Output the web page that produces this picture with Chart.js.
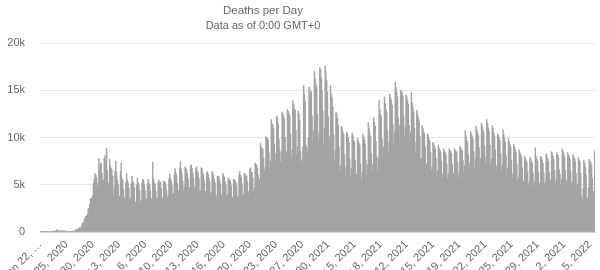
<!DOCTYPE html>
<html>
<head>
<meta charset="utf-8">
<script src="https://cdn.jsdelivr.net/npm/chart.js@4.4.1/dist/chart.umd.min.js"></script>
<style>
  html, body { margin: 0; padding: 0; background: #ffffff; overflow: hidden; }
  #wrap { width: 600px; height: 270px; }
</style>
</head>
<body>
<div id="wrap"><canvas id="c" width="600" height="270"></canvas></div>
<script>
// ---- Data (daily deaths) ----
const startDate = [2020, 0, 22]; // Jan 22, 2020
const deaths2020 = [
  17, 8, 16, 15,
  24, 26, 26, 38, 43, 46, 45,
  57, 64, 66, 73, 73, 86, 89,
  97, 108, 97, 254, 121, 143, 142,
  106, 98, 136, 115, 118, 109, 97,
  150, 71, 64, 37, 58, 58, 67,
  72, 84, 72, 87, 100, 103, 100,
  228, 209, 272, 327, 341, 447, 420,
  520, 830, 970, 960, 1300, 1480, 1650,
  1700, 1880, 2400, 2500, 2900, 3500, 3600,
  3300, 3800, 5200, 5600, 6200, 6000, 5800,
  4800, 5200, 7800, 6600, 7300, 7200, 6200,
  5500, 5500, 7800, 8100, 7300, 8900, 6500,
  5000, 5200, 7700, 7000, 6700, 6600, 5900,
  3900, 4700, 6400, 7500, 6400, 5500, 5000,
  3600, 3800, 6400, 7300, 5700, 5500, 4500,
  3600, 3600, 5200, 6200, 5500, 5200, 4600,
  3400, 3600, 5100, 5900, 5400, 5200, 4700,
  3100, 3200, 5000, 5700, 5200, 5000, 4400,
  3100, 3400, 5200, 5600, 5500, 5000, 4400,
  3300, 3500, 5100, 5600, 5200, 5000, 4300,
  3400, 3600, 7400, 5600, 5200, 5000, 4300,
  3500, 3600, 5300, 5500, 5200, 5300, 4600,
  3500, 3600, 5400, 5300, 5300, 5000, 4400,
  3600, 3800, 5600, 6100, 5700, 5400, 4900,
  4000, 4100, 6000, 6700, 6300, 6000, 5200,
  4300, 4400, 6800, 7400, 6600, 6100, 5400,
  4300, 4800, 6900, 6700, 6600, 6200, 5600,
  4300, 4700, 7000, 7100, 6700, 6300, 5700,
  4500, 4800, 6700, 6900, 6400, 6200, 5700,
  4300, 4400, 6800, 6700, 6300, 6000, 5400,
  4200, 4300, 6200, 6400, 6100, 5700, 5300,
  4100, 4200, 6300, 6400, 6000, 5600, 5200,
  3900, 3600, 5900, 5700, 5900, 5500, 5100,
  3800, 4100, 6200, 6000, 5800, 5400, 5000,
  3800, 3900, 5700, 5600, 5500, 5300, 4900,
  3600, 3700, 5600, 5500, 5400, 5200, 4900,
  3700, 3800, 6000, 6400, 6000, 5800, 5100,
  3800, 4000, 6200, 6100, 6000, 5900, 5300,
  4000, 4300, 6600, 6800, 6300, 6300, 5700,
  4300, 4600, 7300, 7100, 7100, 6800, 6000,
  4800, 5600, 9400, 9000, 8800, 8800, 7800,
  6500, 6800, 10100, 10000, 9900, 9700, 8400,
  6700, 7500, 11900, 11500, 11300, 11000, 9300,
  7400, 8300, 12300, 12100, 11400, 9800, 8700,
  7400, 8400, 12700, 12500, 12200, 12000, 10000,
  7800, 8500, 13000, 12800, 12500, 12300, 10400,
  8000, 8700, 13900, 13500, 13000, 12900, 10800,
  8200, 9000, 12800, 12500, 11800, 8500, 7400,
  7600, 9000, 15500, 14600, 13800
];
const deaths2021 = [
  9200, 8900,
  8400, 10000, 15300, 14700, 15000, 14800, 12300,
  9500, 10700, 17000, 16200, 15700, 15300, 12500,
  9600, 10500, 17400, 17200, 16300, 15000, 12800,
  9300, 11000, 17600, 17000, 16000, 14800, 12200,
  8800, 10100, 15500, 14500, 14200, 13200, 10300,
  7500, 8600, 12700, 12500, 12100, 11300, 9000,
  6300, 7000, 11200, 11000, 10600, 10300, 8200,
  5900, 6900, 10600, 10400, 10000, 9500, 7700,
  5800, 6700, 10500, 10200, 9700, 9500, 7600,
  5400, 6100, 9900, 9600, 9400, 9100, 7200,
  5500, 6300, 10400, 10100, 9800, 9300, 7600,
  6000, 7100, 11600, 11000, 10500, 10100, 8300,
  6300, 7200, 12100, 11600, 11200, 9600, 8000,
  6500, 7800, 13900, 13000, 12500, 12200, 9800,
  7900, 9000, 14300, 13600, 13000, 12600, 10700,
  8500, 9500, 14600, 14200, 13900, 13400, 11400,
  9200, 10600, 15900, 15300, 14800, 14300, 12100,
  9800, 11300, 15000, 14900, 14700, 14400, 12300,
  10100, 11100, 14500, 14300, 13900, 13500, 11300,
  9500, 10500, 14800, 13700, 13200, 12700, 11000,
  8400, 9500, 12900, 12500, 12100, 11800, 10100,
  7700, 7800, 11300, 11000, 10600, 10400, 9000,
  7100, 7200, 10400, 10200, 9800, 9600, 8400,
  6500, 6900, 9500, 9300, 9100, 8800, 7800,
  6000, 6500, 9200, 8900, 8700, 8500, 7500,
  5800, 6200, 8800, 8600, 8400, 8200, 7200,
  5700, 6100, 8800, 8500, 8600, 8300, 7200,
  5600, 6200, 8800, 8600, 8400, 8500, 7400,
  5700, 6400, 9100, 8900, 8700, 8600, 7600,
  6300, 7000, 10700, 10200, 9700, 9500, 8200,
  6500, 7300, 10600, 10400, 10100, 9800, 8500,
  6800, 7700, 11200, 10800, 10500, 10200, 8900,
  7000, 7800, 11500, 11200, 10800, 10500, 9100,
  7200, 8000, 11900, 11500, 11000, 10600, 9200,
  7000, 7700, 11300, 11000, 10500, 10100, 8700,
  6600, 7000, 10400, 10200, 10000, 9700, 8300,
  6500, 7200, 10800, 10300, 9900, 9500, 8100,
  6100, 6800, 9900, 9600, 9300, 9000, 7600,
  5700, 6200, 9300, 9000, 8700, 8400, 7200,
  5400, 5800, 8700, 8400, 8200, 7900, 6800,
  5000, 5400, 8000, 7800, 7600, 7400, 6400,
  4900, 5300, 7900, 7700, 7500, 7300, 6200,
  4900, 5400, 8900, 8000, 7700, 7500, 6300,
  4800, 5200, 8000, 7900, 7600, 7300, 6200,
  4900, 5300, 8300, 8100, 7800, 7500, 6300,
  5000, 5500, 8500, 8300, 8000, 7700, 6500,
  5100, 5600, 8400, 8200, 7900, 6600, 6100,
  5000, 5600, 8800, 8500, 8200, 7900, 6500,
  5000, 5500, 8400, 8200, 8000, 7700, 6400,
  4900, 5300, 8200, 8000, 7800, 7500, 6200,
  4700, 5100, 7900, 7600, 7400, 6200, 3800,
  3400, 4600, 7600, 7300, 6900, 6000
];
const deaths2022 = [
  3600,
  3500, 4700, 7700, 7500, 7300, 7100, 5700,
  3900, 4300, 8600
];
const deaths = deaths2020.concat(deaths2021, deaths2022);

const monthNames = ['Jan','Feb','Mar','Apr','May','Jun','Jul','Aug','Sep','Oct','Nov','Dec'];
const categories = deaths.map((_, i) => {
  const d = new Date(Date.UTC(startDate[0], startDate[1], startDate[2] + i));
  return monthNames[d.getUTCMonth()] + ' ' + d.getUTCDate() + ', ' + d.getUTCFullYear();
});
const tickEvery = 34;
const firstTickLabel = 'Jan 22, …';
const yTicks = [0, 5000, 10000, 15000, 20000];
const yTickLabels = ['0', '5k', '10k', '15k', '20k'];
const titleText = 'Deaths per Day';
const subtitleText = 'Data as of 0:00 GMT+0';

const FONT = "'Liberation Sans', Arial, sans-serif";

const titlePlugin = {
  id: 'fixedTitle',
  afterDraw(chart) {
    const ctx = chart.ctx;
    ctx.save();
    ctx.fillStyle = '#666666';
    ctx.textAlign = 'center';
    ctx.textBaseline = 'middle';
    ctx.font = '11.5px ' + FONT;
    ctx.fillText(titleText, 263, 11);
    ctx.font = '11px ' + FONT;
    ctx.fillText(subtitleText, 263, 25.5);
    ctx.restore();
  }
};

new Chart(document.getElementById('c'), {
  type: 'bar',
  data: {
    labels: categories,
    datasets: [{
      data: deaths,
      backgroundColor: '#a3a3a3',
      borderWidth: 0,
      barPercentage: 1.0,
      categoryPercentage: 1.0
    }]
  },
  options: {
    responsive: false,
    animation: false,
    events: [],
    layout: { padding: { left: 0, right: 5, top: 43, bottom: 0 } },
    plugins: {
      legend: { display: false },
      title: { display: false },
      tooltip: { enabled: false }
    },
    scales: {
      x: {
        grid: { display: false, drawTicks: false },
        border: { display: true, color: '#ccd6eb' },
        ticks: {
          autoSkip: false,
          maxRotation: 45,
          minRotation: 45,
          padding: 6,
          color: '#666666',
          font: { family: FONT, size: 11 },
          callback: function(value, index) {
            if (index % tickEvery !== 0) return null;
            return index === 0 ? firstTickLabel : categories[index];
          }
        },
        afterFit(scale) {
          scale.height = 38;
          scale.paddingLeft = 0;
          scale.paddingRight = 0;
        }
      },
      y: {
        min: 0,
        max: 20000,
        afterBuildTicks(scale) {
          scale.ticks = yTicks.map(v => ({ value: v }));
        },
        grid: { color: '#e6e6e6', drawTicks: false, lineWidth: 1 },
        border: { display: false },
        ticks: {
          padding: 15,
          color: '#666666',
          font: { family: FONT, size: 11 },
          callback: function(value) {
            const k = yTicks.indexOf(value);
            return k >= 0 ? yTickLabels[k] : '';
          }
        },
        afterFit(scale) {
          scale.width = 40;
          scale.paddingTop = 0;
          scale.paddingBottom = 0;
        }
      }
    }
  },
  plugins: [titlePlugin]
});
</script>
</body>
</html>
